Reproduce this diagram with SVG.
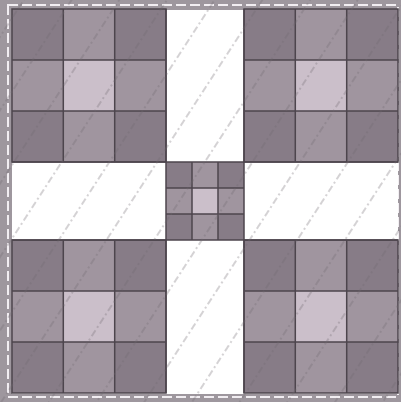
<svg xmlns="http://www.w3.org/2000/svg" width="401" height="402" viewBox="0 0 401 402">
<style>
.dk{fill:#877c87}
.md{fill:#a0959f}
.lt{fill:#cbbfca}
.grid{stroke:#4d454d;stroke-width:1.5;fill:none}
.wh{fill:#ffffff}
</style>
<defs>
<pattern id="wm" width="40" height="400" patternUnits="userSpaceOnUse" patternTransform="rotate(33)">
<line x1="20" y1="0" x2="20" y2="400" stroke="#6e666e" stroke-width="1.3" stroke-dasharray="7 3 2 3" opacity="0.45"/>
</pattern>
<g id="blk">
<rect class="dk" x="0" y="0" width="51.3" height="51"/>
<rect class="md" x="51.3" y="0" width="51.4" height="51"/>
<rect class="dk" x="102.7" y="0" width="51.3" height="51"/>
<rect class="md" x="0" y="51" width="51.3" height="51"/>
<rect class="lt" x="51.3" y="51" width="51.4" height="51"/>
<rect class="md" x="102.7" y="51" width="51.3" height="51"/>
<rect class="dk" x="0" y="102" width="51.3" height="51"/>
<rect class="md" x="51.3" y="102" width="51.4" height="51"/>
<rect class="dk" x="102.7" y="102" width="51.3" height="51"/>
<path class="grid" d="M51.3 0V153M102.7 0V153M0 51H154M0 102H154"/>
<rect class="grid" x="0" y="0" width="154" height="153"/>
</g>
</defs>
<rect x="0" y="0" width="401" height="402" fill="#9e979e"/>
<rect x="8" y="5" width="390" height="392" fill="none" stroke="#f2eef2" stroke-width="2" stroke-dasharray="10 4"/>
<rect x="12" y="10" width="386" height="384" fill="#ffffff"/>
<g id="top-left"><use href="#blk" x="12" y="9"/></g>
<g id="top-right"><use href="#blk" x="244" y="9"/></g>
<g id="bottom-left"><use href="#blk" x="12" y="240"/></g>
<g id="bottom-right"><use href="#blk" x="244" y="240"/></g>
<g id="center">
<rect class="dk" x="166" y="162" width="26" height="26"/>
<rect class="md" x="192" y="162" width="26" height="26"/>
<rect class="dk" x="218" y="162" width="26" height="26"/>
<rect class="md" x="166" y="188" width="26" height="26"/>
<rect class="lt" x="192" y="188" width="26" height="26"/>
<rect class="md" x="218" y="188" width="26" height="26"/>
<rect class="dk" x="166" y="214" width="26" height="26"/>
<rect class="md" x="192" y="214" width="26" height="26"/>
<rect class="dk" x="218" y="214" width="26" height="26"/>
<path class="grid" d="M192 162V240M218 162V240M166 188H244M166 214H244"/>
<rect class="grid" x="166" y="162" width="78" height="78"/>
</g>
<g id="cross-outline">
<path class="grid" d="M166 9V162M244 9V162M166 240V393M244 240V393M12 162H166M244 162H398M12 240H166M244 240H398"/>
</g>
<rect x="0" y="0" width="401" height="402" fill="url(#wm)"/>
</svg>
